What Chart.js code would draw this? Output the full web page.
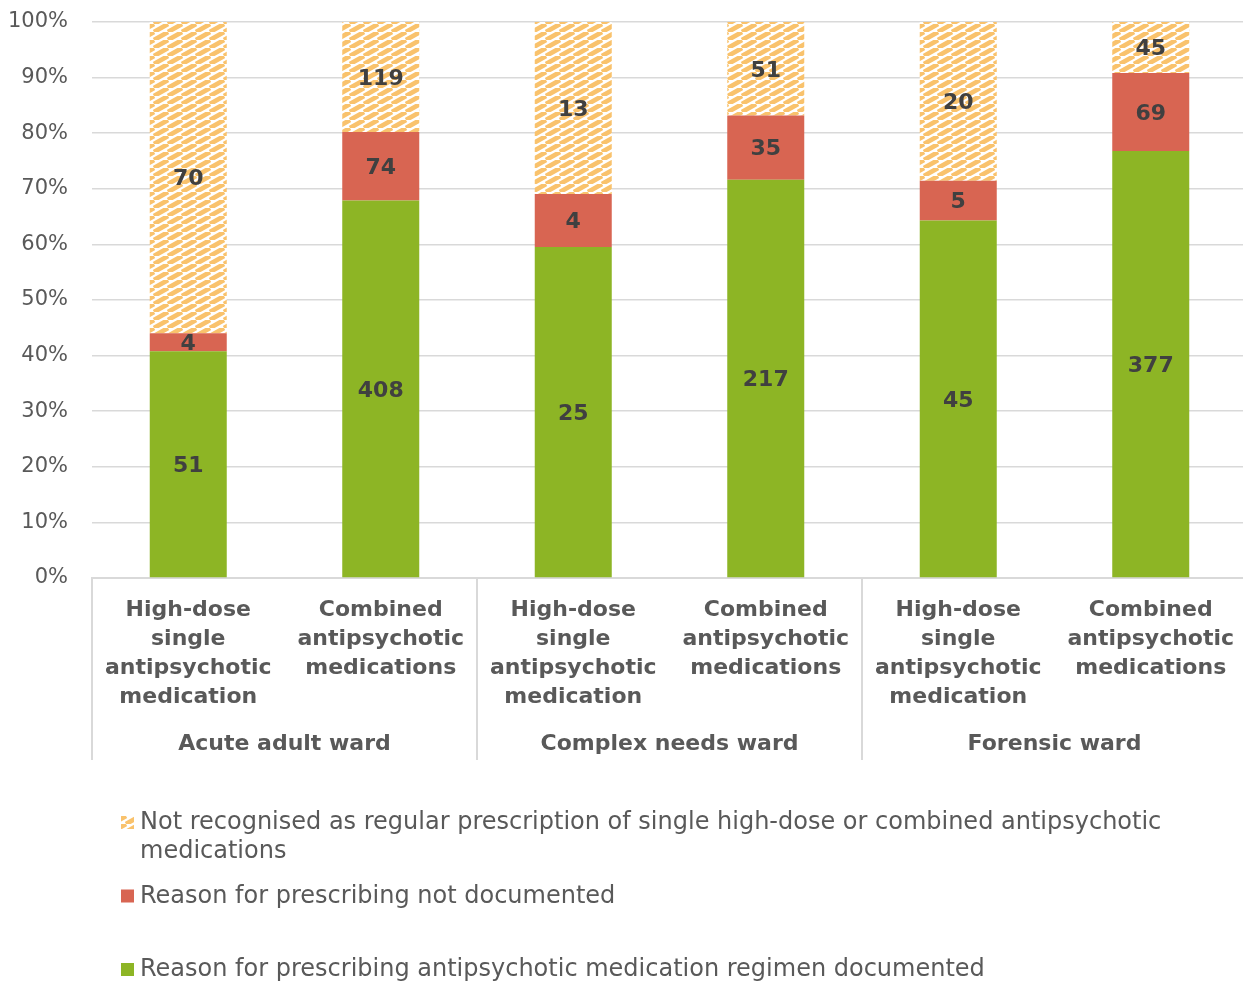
<!DOCTYPE html>
<html>
<head>
<meta charset="utf-8">
<script src="https://cdn.jsdelivr.net/npm/chart.js@4.4.1/dist/chart.umd.min.js"></script>
<style>
  html, body { margin: 0; padding: 0; background: #fff; overflow: hidden; }
  /* plot runs a few pixels past the right edge of the window */
  #wrap { width: 1247px; height: 983px; position: relative; }
</style>
</head>
<body>
<div id="wrap"><canvas id="myChart"></canvas></div>
<script>
// ward groups and the two regimen types within each ward
const wards = ["Acute adult ward", "Complex needs ward", "Forensic ward"];
const highDose = ["High-dose", "single", "antipsychotic", "medication"];
const combined = ["Combined", "antipsychotic", "medications"];
const categories = [highDose, combined, highDose, combined, highDose, combined];

// patient counts per bar
const documented = [51, 408, 25, 217, 45, 377];
const notDocumented = [4, 74, 4, 35, 5, 69];
const notRecognised = [70, 119, 13, 51, 20, 45];

const seriesLabels = [
  "Reason for prescribing antipsychotic medication regimen documented",
  "Reason for prescribing not documented",
  "Not recognised as regular prescription of single high-dose or combined antipsychotic medications",
];

const yTicks = [0, 10, 20, 30, 40, 50, 60, 70, 80, 90, 100];

const FONT = '"DejaVu Sans", sans-serif';
const GREY = "#595959";
const LINE = "#d9d9d9";

const totals = documented.map((v, i) => v + notDocumented[i] + notRecognised[i]);
const pct = (arr) => arr.map((v, i) => (v / totals[i]) * 100);

// diagonal orange hatch
function makeHatch() {
  const w = 14, h = 8;
  const c = document.createElement("canvas");
  c.width = w;
  c.height = h;
  const g = c.getContext("2d");
  g.fillStyle = "#ffffff";
  g.fillRect(0, 0, w, h);
  g.strokeStyle = "#F9C26C";
  g.lineWidth = 4.6;
  g.beginPath();
  for (let k = -1; k <= 1; k++) {
    g.moveTo(k * w, h);
    g.lineTo(k * w + w, 0);
  }
  g.stroke();
  return g.createPattern(c, "repeat");
}
const hatch = makeHatch();

const barLabels = {
  id: "barLabels",
  afterDatasetsDraw(chart) {
    const ctx = chart.ctx;
    ctx.save();
    ctx.font = "bold 22px " + FONT;
    ctx.fillStyle = "#404040";
    ctx.textAlign = "center";
    ctx.textBaseline = "middle";
    chart.data.datasets.forEach((ds, i) => {
      chart.getDatasetMeta(i).data.forEach((bar, j) => {
        ctx.fillText(String(ds.counts[j]), bar.x, (bar.y + bar.base) / 2 + 2);
      });
    });
    ctx.restore();
  },
};

// vertical separators between ward groups
const groupLines = {
  id: "groupLines",
  afterDraw(chart) {
    const x = chart.scales.x;
    const x2 = chart.scales.x2;
    const half = (x.getPixelForValue(1) - x.getPixelForValue(0)) / 2;
    const ctx = chart.ctx;
    ctx.save();
    ctx.strokeStyle = LINE;
    ctx.lineWidth = 2;
    ctx.beginPath();
    for (let g = 0; g < wards.length; g++) {
      const px = x.getPixelForValue(g * 2) - half;
      ctx.moveTo(px, chart.chartArea.bottom);
      ctx.lineTo(px, x2.bottom);
    }
    ctx.stroke();
    ctx.restore();
  },
};

// legend stacked at the bottom, wrapping long labels
const bottomLegend = {
  id: "bottomLegend",
  afterDraw(chart) {
    const ctx = chart.ctx;
    const ds = chart.data.datasets.slice().reverse();
    const left = 121, textX = 140, maxW = 1090, top = 823, step = 73.5, lh = 29;
    ctx.save();
    ctx.font = "24px " + FONT;
    ctx.textBaseline = "middle";
    ds.forEach((d, i) => {
      const y = top + i * step;
      ctx.fillStyle = d.backgroundColor;
      ctx.fillRect(left, y - 7, 13, 13);
      ctx.fillStyle = GREY;
      const words = d.label.split(" ");
      let line = "";
      let ly = y;
      words.forEach((w) => {
        const test = line ? line + " " + w : w;
        if (ctx.measureText(test).width > maxW && line) {
          ctx.fillText(line, textX, ly);
          line = w;
          ly += lh;
        } else {
          line = test;
        }
      });
      ctx.fillText(line, textX, ly);
    });
    ctx.restore();
  },
};

const ctx = document.getElementById("myChart").getContext("2d");
new Chart(ctx, {
  type: "bar",
  data: {
    labels: categories,
    datasets: [
      { label: seriesLabels[0], data: pct(documented), counts: documented, backgroundColor: "#8DB525" },
      { label: seriesLabels[1], data: pct(notDocumented), counts: notDocumented, backgroundColor: "#D86552" },
      { label: seriesLabels[2], data: pct(notRecognised), counts: notRecognised, backgroundColor: hatch },
    ],
  },
  options: {
    responsive: true,
    maintainAspectRatio: false,
    animation: false,
    layout: { padding: { top: 22, right: 0, left: 0, bottom: 223 } },
    datasets: { bar: { barPercentage: 0.4, categoryPercentage: 1 } },
    plugins: { legend: { display: false }, tooltip: { enabled: false } },
    scales: {
      x: {
        stacked: true,
        weight: 0,
        // tick length only spaces the labels; the marks themselves stay hidden
        grid: { display: false, drawTicks: true, tickLength: 18 },
        border: { display: true, color: LINE, width: 2 },
        ticks: {
          color: GREY,
          padding: 0,
          maxRotation: 0,
          autoSkip: false,
          font: { family: FONT, size: 22, weight: "bold", lineHeight: 29 / 22 },
        },
        afterFit(s) { s.height = 142; },
      },
      x2: {
        type: "category",
        labels: wards,
        position: "bottom",
        weight: 1,
        offset: true,
        grid: { display: false, drawTicks: true, tickLength: 11 },
        border: { display: false },
        ticks: {
          color: GREY,
          padding: 0,
          maxRotation: 0,
          font: { family: FONT, size: 22, weight: "bold" },
        },
        afterFit(s) { s.height = 40; },
      },
      y: {
        stacked: true,
        min: 0,
        max: 100,
        afterBuildTicks(s) { s.ticks = yTicks.map((v) => ({ value: v })); },
        grid: { color: LINE, lineWidth: 1.5, drawTicks: true, tickLength: 24, tickColor: "rgba(0,0,0,0)" },
        border: { display: false },
        ticks: {
          color: GREY,
          padding: 0,
          font: { family: FONT, size: 21 },
          callback: (v) => v + "%",
        },
        afterFit(s) { s.width = 92; },
      },
    },
  },
  plugins: [barLabels, groupLines, bottomLegend],
});
</script>
</body>
</html>
